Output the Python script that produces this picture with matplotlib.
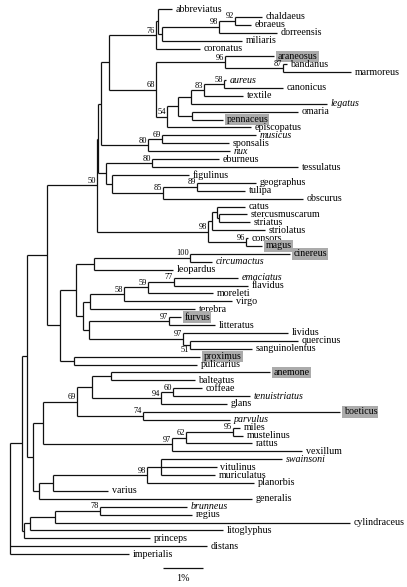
import matplotlib
matplotlib.use("Agg")
import matplotlib.pyplot as plt

# ---------------- data ----------------
# leaves, top to bottom
leaf_names = ["abbreviatus", "chaldaeus", "ebraeus", "dorreensis", "miliaris", "coronatus",
              "araneosus", "bandanus", "marmoreus", "aureus", "canonicus", "textile", "legatus",
              "omaria", "pennaceus", "episcopatus", "musicus", "sponsalis", "nux", "eburneus",
              "tessulatus", "figulinus", "geographus", "tulipa", "obscurus", "catus",
              "stercusmuscarum", "striatus", "striolatus", "consors", "magus", "cinereus",
              "circumactus", "leopardus", "emaciatus", "flavidus", "moreleti", "virgo", "terebra",
              "furvus", "litteratus", "lividus", "quercinus", "sanguinolentus", "proximus",
              "pulicarius", "anemone", "balteatus", "coffeae", "tenuistriatus", "glans", "boeticus",
              "parvulus", "miles", "mustelinus", "rattus", "vexillum", "swainsoni", "vitulinus",
              "muriculatus", "planorbis", "varius", "generalis", "brunneus", "regius",
              "cylindraceus", "litoglyphus", "princeps", "distans", "imperialis"]
leaf_parent = ["X", "D", "D", "C", "B", "N76",
               "N96", "N87", "N87", "N58a", "N58a", "N83", "R",
               "S", "S", "N54", "N69a", "N69a", "N80", "N80e",
               "N80e", "N111", "N89g", "N89g", "N85", "N216",
               "N219", "N219", "K", "N96c", "N96c", "N100",
               "N100", "N94x", "N77", "N77", "N59", "N58v", "N90",
               "N97f", "N97f", "N97l", "N51", "N51", "N74p",
               "N74p", "N111a", "N111a", "N60", "N60", "N94", "N74",
               "N74", "N95", "N95", "N62", "N97r", "N161", "N161",
               "N161", "N98b", "N53", "N39", "N78", "N78",
               "N55", "N30", "N24", "root", "root"]
# distance from root (% divergence)
leaf_depth = [4.05, 6.30, 6.02, 6.67, 5.80, 4.75,
              6.60, 6.92, 8.52, 5.40, 6.82, 5.82, 7.92,
              7.20, 5.32, 6.02, 6.15, 5.47, 5.50, 5.22,
              7.20, 4.47, 6.15, 5.87, 7.32, 5.87,
              5.92, 6.00, 6.37, 5.95, 6.30, 7.00,
              5.05, 4.07, 5.70, 5.95, 5.07, 5.55, 4.62,
              4.27, 5.12, 6.95, 7.20, 6.05, 4.75,
              4.67, 6.50, 4.62, 4.80, 6.00, 5.42, 8.25,
              5.50, 5.75, 5.82, 6.05, 7.30, 6.80, 5.17,
              5.12, 6.10, 2.45, 6.05, 4.42, 4.55,
              8.50, 5.32, 3.50, 4.92, 2.97]
italic_leaves = ["aureus", "legatus", "musicus", "nux", "circumactus", "emaciatus",
                 "tenuistriatus", "parvulus", "swainsoni", "brunneus"]
boxed_leaves = ["araneosus", "pennaceus", "magus", "cinereus", "furvus", "proximus",
                "anemone", "boeticus"]

# internal nodes
node_ids = ["root", "Y", "Z", "W", "N50", "T", "U", "E", "N76", "X", "B", "C", "D",
            "N68", "N96", "N87", "N54", "Q", "R", "N83", "N58a", "S", "N80", "N69a",
            "V", "N80e", "N111", "N85", "N89g", "N98", "K", "N216", "N219", "N96c",
            "M", "N75", "N94x", "N100", "N83b", "N90", "N58v", "N59", "N77", "N89",
            "N97f", "N97l", "N51", "N74p", "N33", "N43", "N69b", "N91", "N111a", "N94",
            "N60", "N74", "N97r", "N62", "N95", "N39", "N53", "N98b", "N161",
            "N24", "N30", "N55", "N78"]
node_parent = [None, "root", "Y", "Z", "W", "N50", "T", "U", "E", "N76", "X", "B", "C",
               "E", "N68", "N96", "N68", "N54", "Q", "R", "N83", "Q", "U", "N80",
               "T", "V", "V", "N111", "N85", "N50", "N98", "K", "N216", "N98",
               "W", "M", "N75", "N94x", "N75", "N83b", "N90", "N58v", "N59", "N83b",
               "N89", "N89", "N97l", "M", "Z", "N33", "N43", "N69b", "N91", "N91",
               "N94", "N69b", "N43", "N97r", "N62", "N33", "N39", "N53", "N98b",
               "Y", "N24", "N30", "N55"]
node_depth = [0.0, 0.29, 0.42, 0.92, 2.17, 2.20, 2.27, 2.48, 3.65, 3.69, 3.80, 5.22, 5.62,
              3.65, 5.37, 6.82, 3.92, 4.20, 4.52, 4.85, 5.35, 4.55, 3.45, 3.80,
              2.40, 3.54, 2.54, 3.82, 4.67, 4.95, 5.04, 5.17, 5.23, 5.90,
              1.25, 1.64, 2.11, 4.50, 1.82, 2.00, 2.85, 3.45, 4.10, 1.98,
              3.97, 4.32, 4.50, 1.60, 0.57, 0.82, 1.67, 2.04, 2.52, 3.77,
              4.07, 3.32, 4.05, 4.40, 5.57, 0.73, 1.08, 3.42, 3.77,
              0.35, 0.50, 1.12, 2.25]
node_support = [None, None, None, None, 50, None, None, None, 76, None, None, 98, 92,
                68, 96, 87, 54, None, None, 83, 58, None, 80, 69,
                None, 80, None, 85, 89, 98, None, None, None, 96,
                None, None, None, 100, None, None, 58, 59, 77, None,
                97, 97, 51, None, None, None, 69, None, None, 94,
                60, 74, 97, 62, 95, None, None, 98, None,
                None, None, None, 78]
support_below = ["N51"]

scale_bar_pct = 1.0

# ---------------- build tree ----------------
depth = {}
parent = {}
children = {}
ypos = {}
for i, (n, p, d) in enumerate(zip(leaf_names, leaf_parent, leaf_depth)):
    depth[n] = d
    parent[n] = p
    ypos[n] = i
    children.setdefault(p, []).append(n)
for n, p, d in zip(node_ids, node_parent, node_depth):
    depth[n] = d
    parent[n] = p
    if p is not None:
        children.setdefault(p, []).append(n)


def get_y(n):
    if n in ypos:
        return ypos[n]
    ys = [get_y(c) for c in children[n]]
    ypos[n] = (min(ys) + max(ys)) / 2.0
    return ypos[n]


get_y("root")

# ---------------- draw ----------------
W_PX, H_PX = 407, 587
fig = plt.figure(figsize=(W_PX / 100, H_PX / 100), dpi=100)
ax = fig.add_axes([0, 0, 1, 1])
ax.set_xlim(-10 / 40, (W_PX - 10) / 40)
ax.set_ylim((H_PX - 9) / 7.9, -9 / 7.9)
ax.axis("off")

lc = "#111111"
lw = 0.9
all_nodes = list(leaf_names) + list(node_ids)
for n in all_nodes:
    p = parent[n]
    if p is not None:
        ax.hlines(ypos[n], depth[p], depth[n], color=lc, lw=lw)
for n in node_ids:
    ys = [ypos[c] for c in children[n]]
    ax.vlines(depth[n], min(ys), max(ys), color=lc, lw=lw)

serif = ["Liberation Serif", "DejaVu Serif"]
for n in leaf_names:
    style = "italic" if n in italic_leaves else "normal"
    kw = {}
    if n in boxed_leaves:
        kw["bbox"] = dict(boxstyle="square,pad=0.12", fc="#ababab", ec="none")
    ax.text(depth[n] + 0.09, ypos[n], n, family=serif, style=style, fontsize=7.2,
            ha="left", va="center", color="#000000", **kw)

for n, s in zip(node_ids, node_support):
    if s is None:
        continue
    if n in support_below:
        ax.text(depth[n] - 0.02, ypos[n] + 0.2, str(s), family=serif, fontsize=6,
                ha="right", va="top", color="#000000")
    else:
        ax.text(depth[n] - 0.02, ypos[n] - 0.05, str(s), family=serif, fontsize=6,
                ha="right", va="bottom", color="#000000")

# scale bar
sb_x0 = 3.83
sb_y = 70.76
ax.hlines(sb_y, sb_x0, sb_x0 + scale_bar_pct, color=lc, lw=lw)
ax.text(sb_x0 + scale_bar_pct / 2, sb_y + 1.3, "1%", family=serif, fontsize=7.2,
        ha="center", va="center", color="#000000")

fig.savefig("out.png", dpi=100)
